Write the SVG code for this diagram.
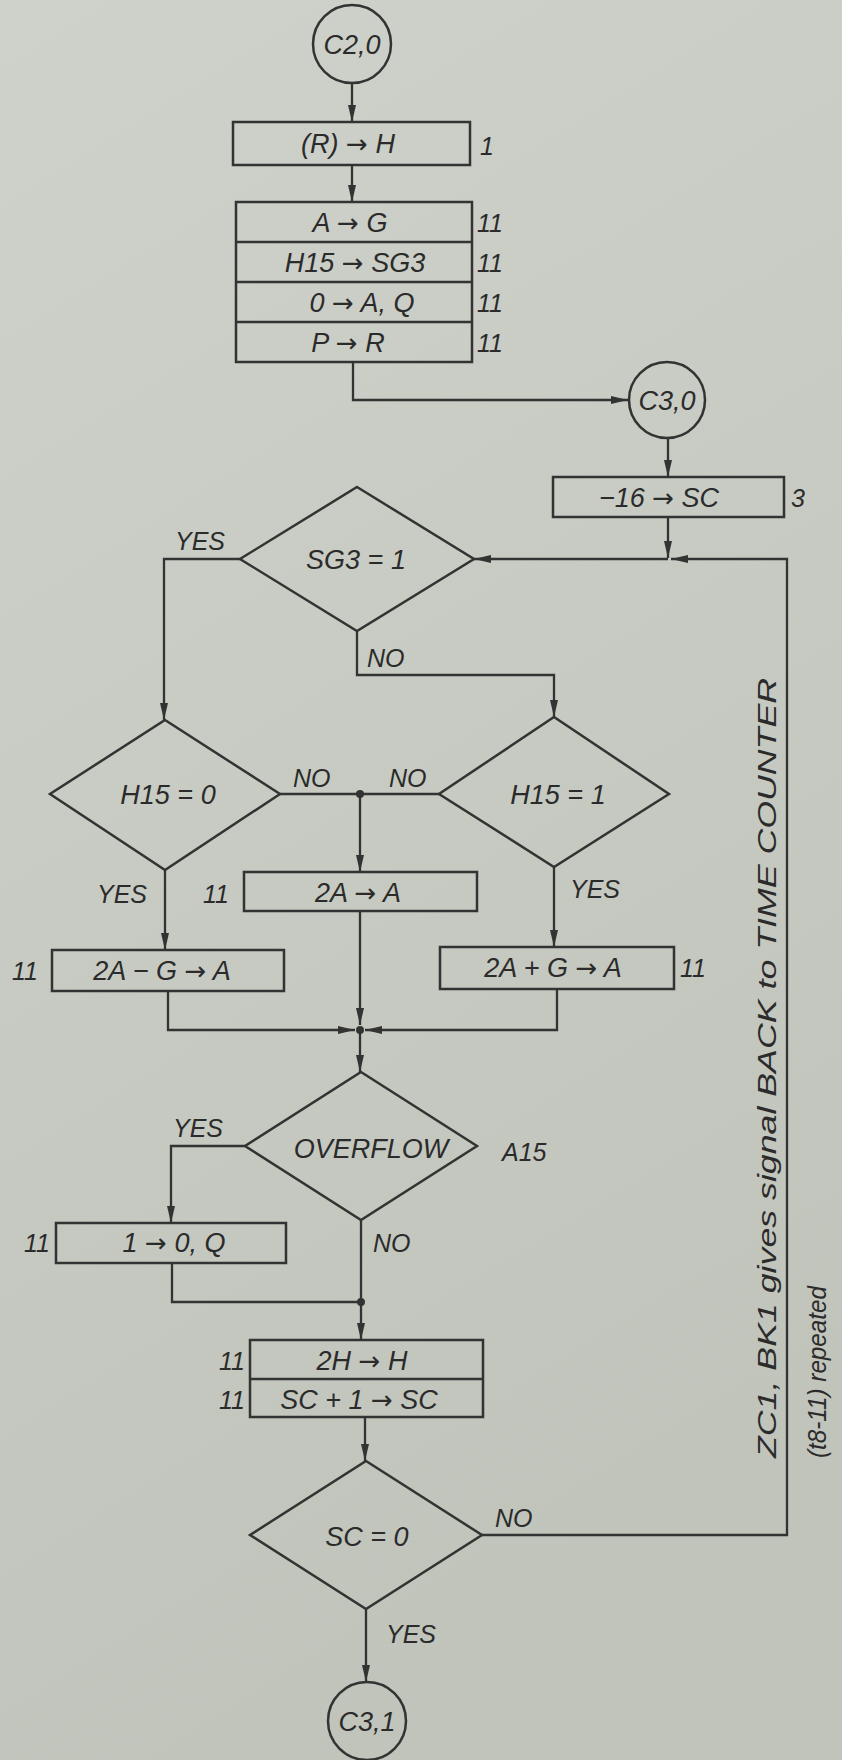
<svg xmlns="http://www.w3.org/2000/svg" width="842" height="1760" viewBox="0 0 842 1760">
<defs>
<linearGradient id="bg" x1="0" y1="0" x2="0.3" y2="1">
<stop offset="0" stop-color="#cfd2ca"/>
<stop offset="1" stop-color="#c0c4bb"/>
</linearGradient>
<marker id="ah" markerUnits="userSpaceOnUse" markerWidth="18" markerHeight="10" refX="17" refY="5" orient="auto">
<path d="M0,1 L17,5 L0,9 z" fill="#333333"/>
</marker>
<style>
.n{fill:none;stroke:#333333;stroke-width:2.5}
.c{fill:none;stroke:#333333;stroke-width:2.3}
.a{marker-end:url(#ah)}
.t{font-family:"Liberation Sans","DejaVu Sans",sans-serif;font-style:italic;font-size:27px;fill:#2b2b2b;text-anchor:middle}
.l{font-family:"Liberation Sans","DejaVu Sans",sans-serif;font-style:italic;font-size:25px;fill:#2b2b2b}
.r{font-family:"DejaVu Sans",sans-serif;font-style:normal;font-size:26px}
.d{fill:#333333}
</style>
</defs>
<rect x="0" y="0" width="842" height="1760" fill="url(#bg)"/>

<g id="connectors">
<path class="c a" d="M352,83 V122"/>
<path class="c a" d="M352,165 V202"/>
<path class="c a" d="M353,362 V400 H628"/>
<path class="c a" d="M668,438 V477"/>
<path class="c a" d="M668,517 V558"/>
<path class="c a" d="M482,1535 H787 V559 H671"/>
<path class="c a" d="M668,559 H474"/>
<path class="c a" d="M240,559 H164 V720"/>
<path class="c a" d="M357,631 V675 H554 V717"/>
<path class="c" d="M280,794 H439"/>
<circle class="d" cx="360" cy="794" r="4"/>
<path class="c a" d="M360,794 V872"/>
<path class="c a" d="M165,870 V950"/>
<path class="c a" d="M554,867 V947"/>
<path class="c a" d="M168,991 V1030 H355"/>
<path class="c a" d="M360,911 V1025"/>
<path class="c a" d="M557,989 V1030 H365"/>
<circle class="d" cx="360" cy="1030" r="4"/>
<path class="c a" d="M360,1030 V1072"/>
<path class="c a" d="M245,1146 H171 V1223"/>
<path class="c a" d="M361,1220 V1340"/>
<path class="c" d="M172,1263 V1302 H361"/>
<circle class="d" cx="361" cy="1302" r="4"/>
<path class="c a" d="M365,1417 V1461"/>
<path class="c a" d="M366,1609 V1682"/>
<text class="l" x="175" y="550">YES</text>
<text class="l" x="367" y="667">NO</text>
<text class="l" x="293" y="787">NO</text>
<text class="l" x="389" y="787">NO</text>
<text class="l" x="97" y="903">YES</text>
<text class="l" x="570" y="898">YES</text>
<text class="l" x="173" y="1137">YES</text>
<text class="l" x="373" y="1252">NO</text>
<text class="l" x="495" y="1527">NO</text>
<text class="l" x="386" y="1643">YES</text>
</g>

<g id="c20">
<circle class="n" cx="352" cy="44" r="39"/>
<text class="t" x="352" y="54">C2,0</text>
</g>

<g id="box1">
<rect class="n" x="233" y="122" width="237" height="43"/>
<text class="t" x="348" y="153">(R) <tspan class="r">→</tspan> H</text>
<text class="l" x="480" y="155">1</text>
</g>

<g id="box2">
<rect class="n" x="236" y="202" width="236" height="160"/>
<path class="n" d="M236,242 H472 M236,282 H472 M236,322 H472"/>
<text class="t" x="350" y="232">A <tspan class="r">→</tspan> G</text>
<text class="t" x="355" y="272">H15 <tspan class="r">→</tspan> SG3</text>
<text class="t" x="362" y="312">0 <tspan class="r">→</tspan> A, Q</text>
<text class="t" x="348" y="352">P <tspan class="r">→</tspan> R</text>
<text class="l" x="477" y="232">11</text>
<text class="l" x="477" y="272">11</text>
<text class="l" x="477" y="312">11</text>
<text class="l" x="477" y="352">11</text>
</g>

<g id="c30">
<circle class="n" cx="667" cy="400" r="38"/>
<text class="t" x="667" y="410">C3,0</text>
</g>

<g id="box3">
<rect class="n" x="553" y="477" width="231" height="40"/>
<text class="t" x="659" y="507">−16 <tspan class="r">→</tspan> SC</text>
<text class="l" x="791" y="507">3</text>
</g>

<g id="sg3">
<polygon class="n" points="357,487 474,559 357,631 240,559"/>
<text class="t" x="356" y="569">SG3 = 1</text>
</g>

<g id="h15_0">
<polygon class="n" points="165,720 280,794 165,870 50,794"/>
<text class="t" x="168" y="804">H15 = 0</text>
</g>

<g id="h15_1">
<polygon class="n" points="554,717 669,794 554,867 439,794"/>
<text class="t" x="558" y="804">H15 = 1</text>
</g>

<g id="box2a">
<rect class="n" x="244" y="872" width="233" height="39"/>
<text class="t" x="358" y="902">2A <tspan class="r">→</tspan> A</text>
<text class="l" x="203" y="903">11</text>
</g>

<g id="box2amg">
<rect class="n" x="52" y="950" width="232" height="41"/>
<text class="t" x="162" y="980">2A − G <tspan class="r">→</tspan> A</text>
<text class="l" x="12" y="980">11</text>
</g>

<g id="box2apg">
<rect class="n" x="440" y="947" width="234" height="42"/>
<text class="t" x="553" y="977">2A + G <tspan class="r">→</tspan> A</text>
<text class="l" x="680" y="977">11</text>
</g>

<g id="overflow">
<polygon class="n" points="361,1072 477,1146 361,1220 245,1146"/>
<text class="t" x="371" y="1158">OVERFLOW</text>
<text class="l" x="502" y="1161">A15</text>
</g>

<g id="box1q">
<rect class="n" x="56" y="1223" width="230" height="40"/>
<text class="t" x="174" y="1252">1 <tspan class="r">→</tspan> 0, Q</text>
<text class="l" x="24" y="1252">11</text>
</g>

<g id="box2h">
<rect class="n" x="250" y="1340" width="233" height="77"/>
<path class="n" d="M250,1379 H483"/>
<text class="t" x="362" y="1370">2H <tspan class="r">→</tspan> H</text>
<text class="t" x="359" y="1409">SC + 1 <tspan class="r">→</tspan> SC</text>
<text class="l" x="219" y="1370">11</text>
<text class="l" x="219" y="1409">11</text>
</g>

<g id="sc0">
<polygon class="n" points="366,1461 482,1535 366,1609 250,1535"/>
<text class="t" x="367" y="1546">SC = 0</text>
</g>

<g id="c31">
<circle class="n" cx="367" cy="1721" r="39"/>
<text class="t" x="367" y="1731">C3,1</text>
</g>

<g id="note">
<text class="l" x="776" y="1458" transform="rotate(-90 776 1458)" textLength="780" lengthAdjust="spacingAndGlyphs">ZC1, BK1 gives signal BACK to TIME COUNTER</text>
<text class="l" x="826" y="1458" transform="rotate(-90 826 1458)" textLength="172" lengthAdjust="spacingAndGlyphs">(t8-11) repeated</text>
</g>
</svg>
